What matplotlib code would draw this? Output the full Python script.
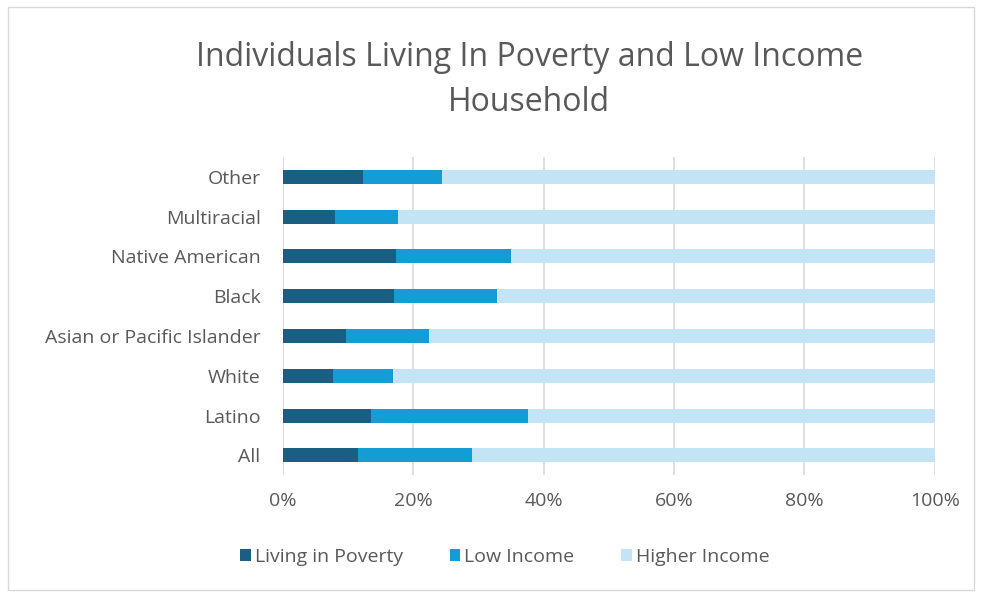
import matplotlib.pyplot as plt
from matplotlib.patches import Rectangle
from matplotlib.ticker import PercentFormatter
import numpy as np

groups = ['All', 'Latino', 'White', 'Asian or Pacific Islander', 'Black',
          'Native American', 'Multiracial', 'Other']
poverty = [11.5, 13.5, 7.7, 9.7, 17.0, 17.3, 8.0, 12.3]
low_income = [17.5, 24.1, 9.2, 12.7, 15.9, 17.7, 9.7, 12.1]
higher_income = [100 - p - l for p, l in zip(poverty, low_income)]

colors = ['#1b5e84', '#149dd5', '#c2e4f5']
labels = ['Living in Poverty', 'Low Income', 'Higher Income']
grey = '#595959'

plt.rcParams['font.family'] = ['Open Sans', 'DejaVu Sans']

fig = plt.figure(figsize=(9.82, 5.97), dpi=100)
ax = fig.add_axes([0.288, 0.204, 0.664, 0.533])

y_pos = np.arange(len(groups))
left = np.zeros(len(groups))
for values, color, label in zip([poverty, low_income, higher_income], colors, labels):
    ax.barh(y_pos, values, left=left, height=0.35, color=color, label=label, zorder=3)
    left = left + np.array(values)

ax.set_xlim(0, 100)
ax.set_ylim(-0.5, len(groups) - 0.5)
ax.set_xticks(np.arange(0, 101, 20))
ax.xaxis.set_major_formatter(PercentFormatter(decimals=0))
ax.set_yticks(y_pos)
ax.set_yticklabels(groups)
ax.tick_params(axis='both', length=0, colors=grey, labelsize=14)
ax.tick_params(axis='x', pad=12)
ax.tick_params(axis='y', pad=16)
ax.grid(axis='x', color='#d9d9d9', linewidth=1.2, zorder=0)
for spine in ax.spines.values():
    spine.set_visible(False)

fig.text(0.539, 0.866, 'Individuals Living In Poverty and Low Income\nHousehold',
         ha='center', va='center', fontsize=23, color=grey, linespacing=1.5)

fig.legend(loc='center', bbox_to_anchor=(0.514, 0.067), ncol=3, frameon=False,
           fontsize=14, labelcolor=grey, handlelength=0.55, handleheight=0.55,
           handletextpad=0.2, columnspacing=2.4)

fig.patches.append(Rectangle((0.008, 0.012), 0.984, 0.976, transform=fig.transFigure,
                             fill=False, edgecolor='#d9d9d9', linewidth=1))

fig.savefig('out.png', dpi=100, facecolor='white')
